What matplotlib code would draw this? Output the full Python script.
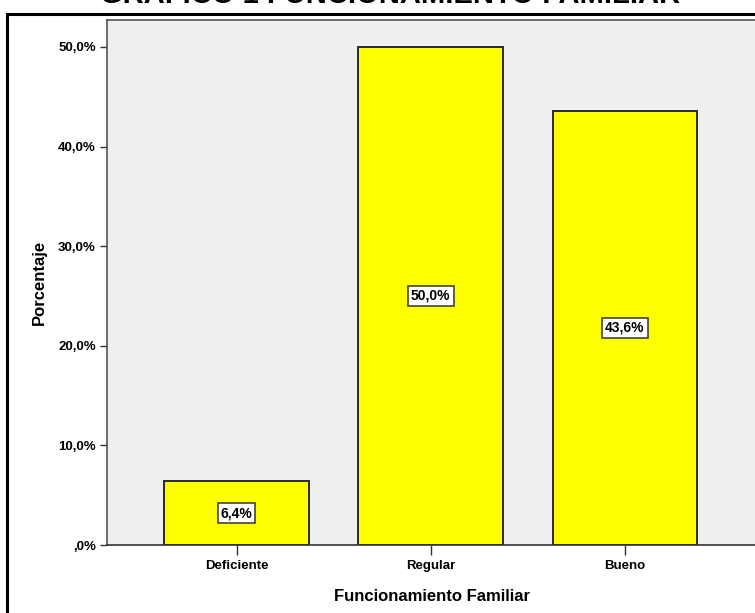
import matplotlib.pyplot as plt
from matplotlib.patches import Rectangle

categorias = ['Deficiente', 'Regular', 'Bueno']
porcentajes = [6.4, 50.0, 43.6]
ticks_y = [0, 10, 20, 30, 40, 50]

plt.rcParams['font.family'] = ['Liberation Sans', 'DejaVu Sans']
plt.rcParams['font.weight'] = 'bold'

fig = plt.figure(figsize=(7.55, 6.13), dpi=100)
ax = fig.add_axes([107 / 755, 1 - 545 / 613, 651 / 755, 525 / 613])
ax.set_facecolor('#efefef')

x = range(len(categorias))
ax.bar(x, porcentajes, width=0.745, color='#ffff00', edgecolor='#2a2a2a', linewidth=1.4, zorder=2)

for i, v in enumerate(porcentajes):
    etiqueta = f'{v:.1f}%'.replace('.', ',')
    ax.text(i, v / 2, etiqueta, ha='center', va='center', fontsize=10, fontweight='bold',
            bbox=dict(boxstyle='square,pad=0.22', facecolor='white', edgecolor='#333333', linewidth=1.1),
            zorder=3)

ax.set_xlim(-0.667, 2.685)
ax.set_ylim(0, 52.7)
ax.set_xticks(list(x))
ax.set_xticklabels(categorias, fontsize=9.5, fontweight='bold')
ax.set_yticks(ticks_y)
ax.set_yticklabels([(f'{t:.1f}%'.replace('.', ',') if t else ',0%') for t in ticks_y],
                   fontsize=9.5, fontweight='bold')
ax.tick_params(axis='y', direction='out', length=5, width=1, color='#333333', pad=3)
ax.tick_params(axis='x', direction='out', length=7, width=1, color='#333333', pad=4)

for s in ax.spines.values():
    s.set_color('#555555')
    s.set_linewidth(1.2)
ax.spines['bottom'].set_color('#333333')

ax.set_ylabel('Porcentaje', fontsize=12, fontweight='bold', labelpad=8)
ax.set_xlabel('Funcionamiento Familiar', fontsize=12, fontweight='bold', labelpad=12)

# marco exterior y titulo recortado arriba
fig.patches.append(Rectangle((7 / 755, -0.1), 1.2, 1.1 - 14 / 613, fill=False,
                             edgecolor='black', linewidth=2.2, transform=fig.transFigure))
fig.text(390 / 755, 1 - 3 / 613, 'GRÁFICO 1 FUNCIONAMIENTO FAMILIAR', ha='center', va='baseline',
         fontsize=21, fontweight='bold')

fig.savefig('out.png', dpi=100)
